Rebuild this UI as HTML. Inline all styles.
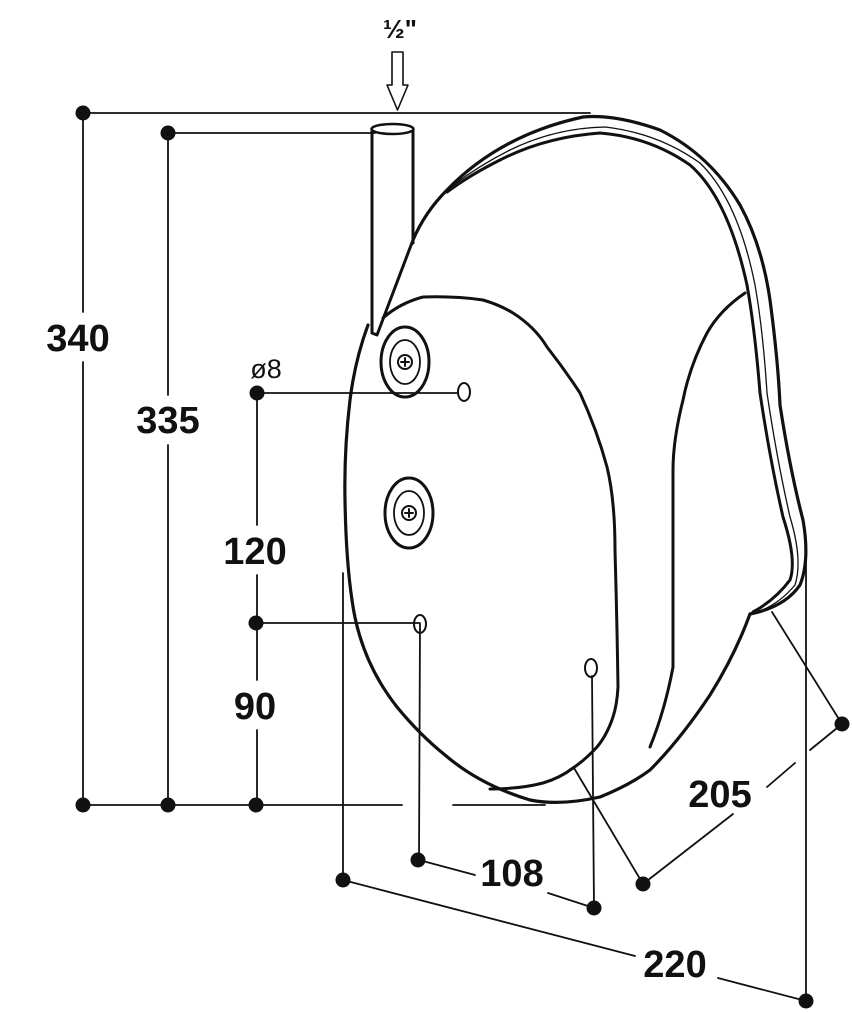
<!DOCTYPE html>
<html><head><meta charset="utf-8"><style>
html,body{margin:0;padding:0;background:#fff;}
svg{display:block;}
text{font-family:"Liberation Sans",Arial,sans-serif;fill:#111;}
</style></head><body>
<svg width="852" height="1013" viewBox="0 0 852 1013" xmlns="http://www.w3.org/2000/svg">
<g stroke="#111" fill="none" stroke-linecap="round" stroke-linejoin="round">
<!-- dimension lines -->
<g stroke-width="1.8">
<line x1="83" y1="113" x2="590" y2="113"/>
<line x1="83" y1="113" x2="83" y2="312"/>
<line x1="83" y1="362" x2="83" y2="805"/>
<line x1="168" y1="133" x2="375" y2="133"/>
<line x1="168" y1="133" x2="168" y2="395"/>
<line x1="168" y1="445" x2="168" y2="805"/>
<line x1="257" y1="393" x2="458" y2="393"/>
<line x1="257" y1="393" x2="257" y2="525"/>
<line x1="257" y1="575" x2="257" y2="680"/>
<line x1="257" y1="730" x2="257" y2="805"/>
<line x1="257" y1="623" x2="420" y2="623"/>
<line x1="83" y1="805" x2="402" y2="805"/>
<line x1="453" y1="805" x2="545" y2="805"/>
<line x1="343" y1="573" x2="343" y2="880"/>
<line x1="343" y1="880" x2="635" y2="956"/>
<line x1="718" y1="978" x2="806" y2="1001"/>
<line x1="806" y1="555" x2="806" y2="1001"/>
<line x1="420" y1="624" x2="419" y2="860"/>
<line x1="419" y1="860" x2="475" y2="875"/>
<line x1="548" y1="893" x2="594" y2="908"/>
<line x1="592" y1="676" x2="594" y2="908"/>
<line x1="574" y1="768" x2="643" y2="884"/>
<line x1="772" y1="612" x2="842" y2="724"/>
<line x1="643" y1="884" x2="733" y2="814"/>
<line x1="767" y1="787" x2="795" y2="763"/>
<line x1="810" y1="750" x2="842" y2="724"/>
</g>
<!-- arrow -->
<path d="M392 52 L403 52 L403 85 L408 85 L397.5 110 L387 85 L392 85 Z" stroke-width="1.6"/>
<!-- back shell outer -->
<path stroke-width="3.2" d="M413 240 Q425 212 447 190 Q500 135 583 117 Q615 114 660 130 Q710 155 740 205 Q762 245 770 300 Q778 360 780 405 Q790 470 803 520 Q810 560 800 585 Q785 607 750 614"/>
<!-- inner rim -->
<path stroke-width="3" d="M447 192 Q470 175 500 160 Q545 137 600 133 Q650 137 690 165 Q728 198 747 285 Q755 330 760 393 Q770 460 783 517 Q797 560 790 580 Q775 600 753 612"/>
<path stroke-width="1.3" d="M452 186 Q480 165 510 150 Q555 128 605 127 Q658 133 700 163 Q738 200 755 285 Q763 330 767 393 Q777 460 790 517 Q803 560 795 585 Q780 603 760 611"/>
<!-- pipe -->
<line x1="372" y1="130" x2="372" y2="333" stroke-width="3"/>
<line x1="413" y1="130" x2="413" y2="243" stroke-width="3"/>
<ellipse cx="392.5" cy="129" rx="21" ry="5" stroke-width="2.5" fill="#fff"/>
<path d="M413 240 L377 335 L372 333" stroke-width="3"/>
<!-- front shell outline -->
<path stroke-width="3.2" d="M368 325 Q355 360 350 400 Q344 450 345 500 Q346 560 352 600 Q360 660 397 707 Q420 735 445 755 Q480 785 530 800 Q560 806 600 797 Q630 785 650 770 Q680 740 710 695 Q735 655 750 614"/>
<!-- inner panel -->
<path stroke-width="3" d="M383 318 Q400 303 423 297 Q455 296 483 300 Q500 305 513 313 Q535 327 547 347 Q565 370 580 393 Q597 430 607 467 Q615 500 615 550 Q617 620 618 687 Q617 705 613 717 Q607 735 597 747 Q585 760 573 768 Q560 778 543 783 Q520 789 490 789"/>
<!-- right panel -->
<path stroke-width="3" d="M745 293 Q720 310 707 333 Q690 365 683 400 Q673 440 673 470 L673 600 Q673 667 673 667 Q665 710 650 747"/>
<!-- screws -->
<ellipse cx="405" cy="362" rx="24" ry="35" stroke-width="3"/>
<ellipse cx="405" cy="362" rx="15" ry="22" stroke-width="1.8"/>
<circle cx="405" cy="362" r="7" stroke-width="2"/>
<path d="M401 362 H409 M405 358 V366" stroke-width="2"/>
<ellipse cx="409" cy="513" rx="24" ry="35" stroke-width="3"/>
<ellipse cx="409" cy="513" rx="15" ry="22" stroke-width="1.8"/>
<circle cx="409" cy="513" r="7" stroke-width="2"/>
<path d="M405 513 H413 M409 509 V517" stroke-width="2"/>
<!-- holes -->
<ellipse cx="464" cy="392" rx="6" ry="9" stroke-width="2"/>
<ellipse cx="420" cy="624" rx="6" ry="9" stroke-width="2"/>
<ellipse cx="591" cy="668" rx="6" ry="9" stroke-width="2"/>
</g>
<!-- dots -->
<g fill="#111">
<circle cx="83" cy="113" r="7.5"/><circle cx="168" cy="133" r="7.5"/>
<circle cx="257" cy="393" r="7.5"/><circle cx="256" cy="623" r="7.5"/>
<circle cx="83" cy="805" r="7.5"/><circle cx="168" cy="805" r="7.5"/><circle cx="256" cy="805" r="7.5"/>
<circle cx="343" cy="880" r="7.5"/><circle cx="418" cy="860" r="7.5"/>
<circle cx="594" cy="908" r="7.5"/><circle cx="643" cy="884" r="7.5"/>
<circle cx="842" cy="724" r="7.5"/><circle cx="806" cy="1001" r="7.5"/>
</g>
<!-- labels -->
<g font-weight="bold" font-size="38" text-anchor="middle">
<text x="78" y="351">340</text>
<text x="168" y="433">335</text>
<text x="255" y="564">120</text>
<text x="255" y="719">90</text>
<text x="512" y="886">108</text>
<text x="720" y="807">205</text>
<text x="675" y="977">220</text>
</g>
<text x="266" y="378" font-size="27" text-anchor="middle">ø8</text>
<text x="400" y="38" font-size="26" font-weight="bold" text-anchor="middle">½"</text>
</svg>
</body></html>
